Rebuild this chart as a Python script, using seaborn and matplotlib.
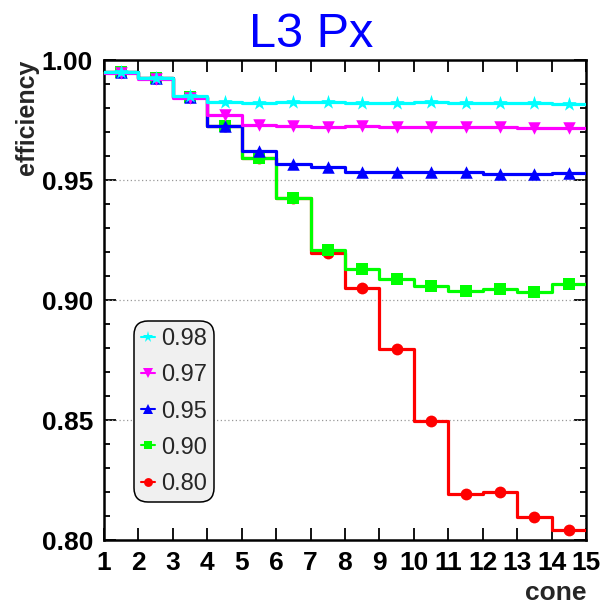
import numpy as np
import pandas as pd
import matplotlib
matplotlib.use("Agg")
import matplotlib.pyplot as plt
from matplotlib.ticker import MultipleLocator, FormatStrFormatter
from matplotlib.lines import Line2D
import seaborn as sns

# Efficiency per cone bin, one array per threshold
cone = [1.5, 2.5, 3.5, 4.5, 5.5, 6.5, 7.5, 8.5, 9.5, 10.5, 11.5, 12.5, 13.5, 14.5]
eff_098 = [0.9951, 0.9926, 0.9850, 0.9824, 0.9821, 0.9823, 0.9823, 0.9822, 0.9822, 0.9826, 0.9821, 0.9821, 0.9820, 0.9818]
eff_097 = [0.9946, 0.9921, 0.9843, 0.9770, 0.9729, 0.9724, 0.9720, 0.9726, 0.9722, 0.9722, 0.9722, 0.9722, 0.9715, 0.9715]
eff_095 = [0.9948, 0.9923, 0.9846, 0.9725, 0.9622, 0.9567, 0.9556, 0.9535, 0.9535, 0.9535, 0.9535, 0.9525, 0.9525, 0.9530]
eff_090 = [0.9948, 0.9923, 0.9846, 0.9725, 0.9590, 0.9425, 0.9208, 0.9128, 0.9086, 0.9058, 0.9038, 0.9047, 0.9033, 0.9065]
eff_080 = [0.9948, 0.9923, 0.9846, 0.9725, 0.9590, 0.9425, 0.9197, 0.9049, 0.8795, 0.8497, 0.8190, 0.8199, 0.8095, 0.8042]

labels = ["0.98", "0.97", "0.95", "0.90", "0.80"]
series = [eff_098, eff_097, eff_095, eff_090, eff_080]
colors = ["#00ffff", "#ff00ff", "#0000ff", "#00ff00", "#ff0000"]
markers = ["*", "v", "^", "s", "o"]
msizes = [11, 9, 9, 8.5, 8.5]

sns.set_theme(style="ticks")
plt.rcParams["font.family"] = ["Liberation Sans", "DejaVu Sans"]

fig = plt.figure(figsize=(6.02, 6.04), dpi=100)
ax = fig.add_axes([104 / 602, 1 - 540 / 604, 482 / 602, 480 / 604])

# Draw from the last threshold up so 0.98 sits on top
n = len(series)
for i in reversed(range(n)):
    c = np.array(cone)
    v = np.array(series[i])
    edges = np.append(c - 0.5, c[-1] + 0.5)
    vals = np.append(v, v[-1])
    step_df = pd.DataFrame({"cone": edges, "eff": vals})
    sns.lineplot(data=step_df, x="cone", y="eff", ax=ax, color=colors[i],
                 drawstyle="steps-post", lw=2.3, estimator=None, sort=False,
                 zorder=2 + (n - i))
    pt_df = pd.DataFrame({"cone": c, "eff": v})
    sns.scatterplot(data=pt_df, x="cone", y="eff", ax=ax, color=colors[i],
                    marker=markers[i], s=msizes[i] ** 2, linewidth=0,
                    zorder=2.5 + (n - i))

ax.set_xlim(1, 15)
ax.set_ylim(0.80, 1.00)
ax.xaxis.set_major_locator(MultipleLocator(1))
ax.yaxis.set_major_locator(MultipleLocator(0.05))
ax.yaxis.set_minor_locator(MultipleLocator(0.01))
ax.yaxis.set_major_formatter(FormatStrFormatter("%.2f"))

for yg in [0.85, 0.90, 0.95]:
    ax.axhline(yg, color="#999999", lw=0.9, ls=(0, (1, 2)), zorder=1)

ax.tick_params(axis="both", which="both", direction="in", top=True, right=True,
               colors="black", width=1.3)
ax.tick_params(axis="x", which="major", length=8.6, labelsize=19, pad=8)
ax.tick_params(axis="y", which="major", length=8.6, labelsize=19, pad=8)
ax.tick_params(axis="y", which="minor", length=4.5)
for lab in ax.get_xticklabels() + ax.get_yticklabels():
    lab.set_fontweight("bold")

for sp in ax.spines.values():
    sp.set_linewidth(1.8)
    sp.set_color("black")

ax.set_xlabel("cone", fontsize=19, fontweight="bold", loc="right")
ax.xaxis.set_label_coords(1.0, -0.085)
ax.set_ylabel("efficiency", fontsize=18, fontweight="bold", loc="top")
ax.yaxis.set_label_coords(-0.135, 1.0)

fig.text(311 / 602, 1 - 47 / 604, "L3 Px", color="#0000ff", fontsize=35,
         ha="center", va="baseline")

handles = [Line2D([], [], color=colors[i], marker=markers[i], markersize=msizes[i] * 0.75,
                  lw=1.5, markeredgewidth=0) for i in range(n)]
leg = ax.legend(handles, labels, loc="upper left", bbox_to_anchor=(0.062, 0.456),
                frameon=True, fancybox=True, facecolor="#f0f0f0", edgecolor="black",
                fontsize=17, handlelength=0.6, handletextpad=0.25, labelspacing=0.6,
                borderpad=0.3, borderaxespad=0, framealpha=1)
leg.get_frame().set_linewidth(1.1)
leg.get_frame().set_boxstyle("round,pad=0,rounding_size=0.6")

fig.savefig("out.png", dpi=100)
